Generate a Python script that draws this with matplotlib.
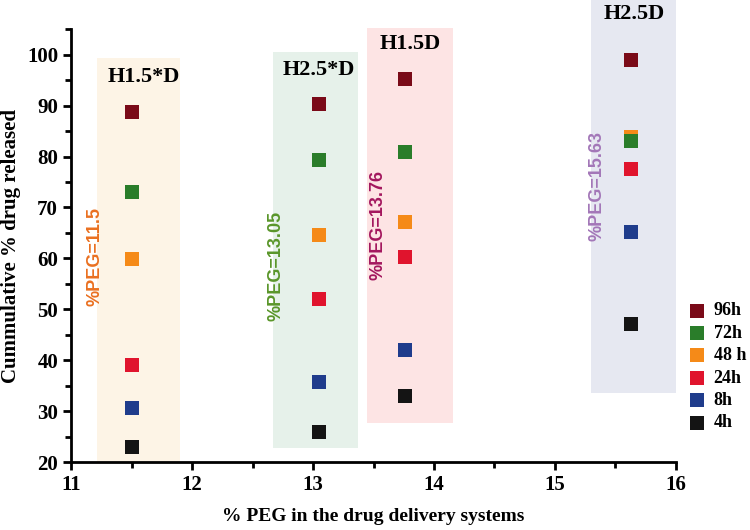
import matplotlib.pyplot as plt
from matplotlib.patches import Rectangle
from matplotlib.ticker import MultipleLocator

peg = [11.5, 13.05, 13.76, 15.63]
names = ["H1.5*D", "H2.5*D", "H1.5D", "H2.5D"]
peg_labels = ["%PEG=11.5", "%PEG=13.05", "%PEG=13.76", "%PEG=15.63"]

times = ["4h", "8h", "24h", "48 h", "72h", "96h"]
rel_4h = [23.0, 25.9, 33.0, 47.1]
rel_8h = [30.6, 35.7, 42.0, 65.2]
rel_24h = [39.0, 52.0, 60.3, 77.6]
rel_48h = [59.9, 64.6, 67.2, 83.8]
rel_72h = [73.0, 79.3, 80.9, 83.0]
rel_96h = [88.8, 90.3, 95.2, 99.0]
series = [rel_4h, rel_8h, rel_24h, rel_48h, rel_72h, rel_96h]
colors = ["#141414", "#1f3c8c", "#e0142d", "#f58a18", "#2a7d2a", "#7a0a18"]

# shaded boxes: (x0, x1, y0, y1, colour)
boxes = [(11.21, 11.90, 20.0, 99.4, "#fdf4e6"),
         (12.67, 13.37, 22.7, 100.6, "#e6f1ea"),
         (13.45, 14.16, 27.6, 105.3, "#fde4e4"),
         (15.30, 16.00, 33.5, 113.5, "#e6e8f1")]
label_pos = [(11.6, 95.6), (13.05, 97.0), (13.8, 102.0), (15.66, 108.0)]
peg_pos = [(11.2, 60.3), (12.69, 58.5), (13.54, 66.5), (15.35, 74.2)]
peg_colors = ["#ea7020", "#5a962a", "#a3175e", "#a377b8"]

serif = "Liberation Serif"
fig = plt.figure(figsize=(7.5, 5.3), dpi=100)
ax = fig.add_axes([0.095, 0.128, 0.806, 0.817])

for x0, x1, y0, y1, c in boxes:
    ax.add_patch(Rectangle((x0, y0), x1 - x0, y1 - y0, color=c, lw=0, zorder=0, clip_on=False))

handles = []
for vals, c, t in zip(series, colors, times):
    h = ax.scatter(peg, vals, marker="s", s=110, color=c, label=t, zorder=3, linewidths=0)
    handles.append(h)

for (x, y), n in zip(label_pos, names):
    ax.text(x, y, n, family=serif, fontweight="bold", fontsize=16, ha="center", va="center")
for (x, y), t, c in zip(peg_pos, peg_labels, peg_colors):
    ax.text(x, y, t, family="Liberation Sans", fontweight="bold", fontsize=13, color=c,
            rotation=90, ha="center", va="center")

ax.set_xlim(11, 16)
ax.set_ylim(20, 105)
ax.xaxis.set_major_locator(MultipleLocator(1))
ax.xaxis.set_minor_locator(MultipleLocator(0.5))
ax.yaxis.set_minor_locator(MultipleLocator(5))
ax.set_yticks(range(20, 101, 10))
for s in ["top", "right"]:
    ax.spines[s].set_visible(False)
for s in ["left", "bottom"]:
    ax.spines[s].set_linewidth(2)
ax.tick_params(which="major", width=2, length=6)
ax.tick_params(which="minor", width=2, length=4)
for lab in ax.get_xticklabels() + ax.get_yticklabels():
    lab.set_family(serif)
    lab.set_fontweight("bold")
    lab.set_fontsize(15)

ax.set_xlabel("% PEG in the drug delivery systems", family=serif, fontweight="bold", fontsize=14, labelpad=9)
ax.set_ylabel("Cummulative % drug released", family=serif, fontweight="bold", fontsize=15, labelpad=4)

leg = ax.legend(handles[::-1], times[::-1], loc="center left", bbox_to_anchor=(1.0, 0.22),
                frameon=False, prop={"family": serif, "weight": "bold", "size": 13},
                handletextpad=0.4, labelspacing=0.3, handlelength=1.0, borderaxespad=0.3,
                scatterpoints=1)

fig.savefig("out.png", dpi=100)
